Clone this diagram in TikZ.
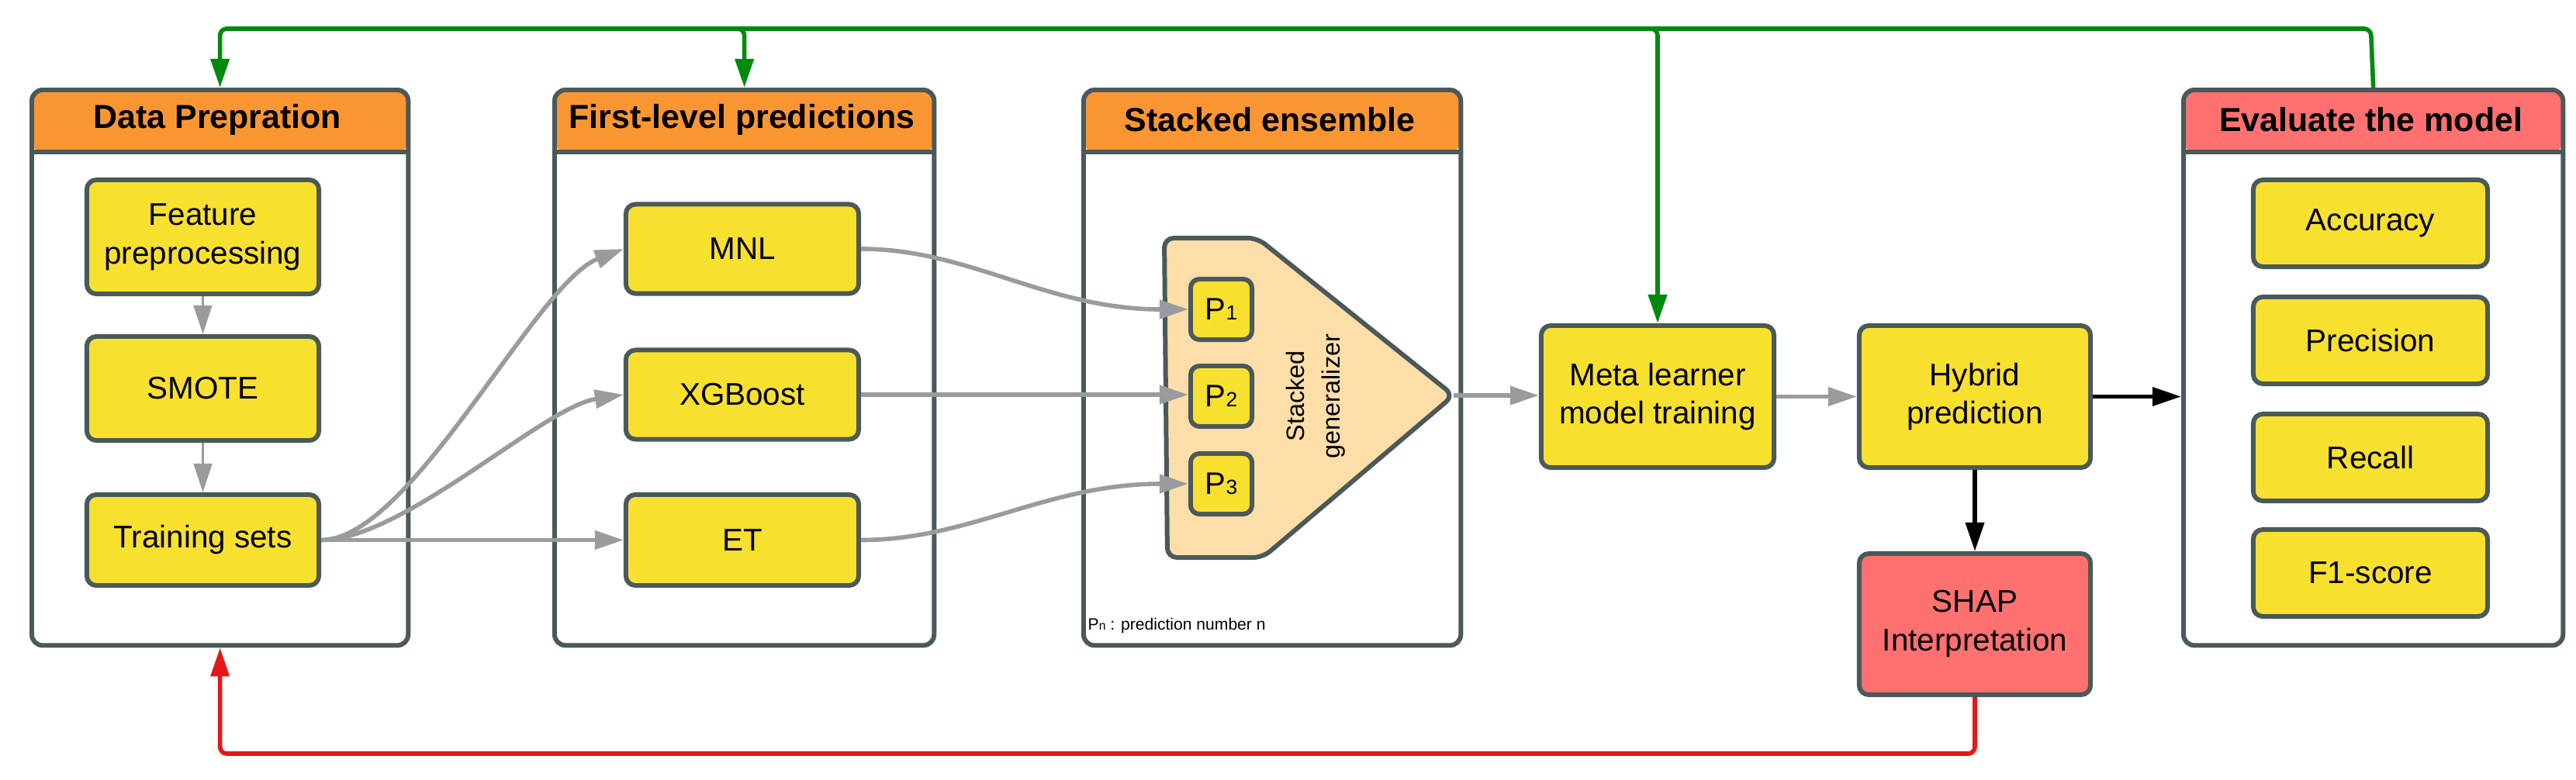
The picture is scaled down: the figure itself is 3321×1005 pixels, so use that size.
\documentclass[tikz,border=0pt]{standalone}
\usepackage{fontspec}
\setmainfont{Liberation Sans}
\usetikzlibrary{arrows.meta}
\definecolor{bd}{RGB}{74,89,89}
\definecolor{hdor}{RGB}{250,150,50}
\definecolor{hdred}{RGB}{255,112,112}
\definecolor{yel}{RGB}{248,224,47}
\definecolor{peach}{RGB}{253,222,168}
\definecolor{garr}{RGB}{153,155,158}
\definecolor{gline}{RGB}{0,138,14}
\definecolor{rline}{RGB}{232,22,22}
\tikzset{
  cont/.style={draw=bd, line width=1.7pt, fill=white, rounded corners=4pt, inner sep=0pt, anchor=north west,
    path picture={\fill[#1] (path picture bounding box.north west) rectangle ([yshift=-0.8cm]path picture bounding box.north east);
      \draw[bd,line width=1.7pt] ([yshift=-0.8cm]path picture bounding box.north west) -- ([yshift=-0.8cm]path picture bounding box.north east);}},
  hdr/.style={font=\fontsize{12.2}{14}\selectfont\bfseries, inner sep=0pt},
  box/.style={draw=bd, line width=1.7pt, fill=yel, rounded corners=3.5pt, align=center, inner sep=0pt,
    font=\fontsize{11.5}{14.2}\selectfont},
  pbox/.style={draw=bd, line width=1.7pt, fill=yel, rounded corners=3.2pt, inner sep=0pt,
    minimum width=0.79cm, minimum height=0.78cm, font=\fontsize{11.4}{13}\selectfont},
  tip/.style={-{Triangle[length=0.37cm,width=0.235cm]}},
  garrow/.style={tip, draw=garr, line width=1.6pt},
  barrow/.style={tip, draw=black, line width=1.5pt},
  gl/.style={tip, draw=gline, line width=1.6pt, rounded corners=2.5pt},
  rl/.style={tip, draw=rline, line width=1.6pt, rounded corners=2.5pt},
}
\begin{document}
\begin{tikzpicture}[x=0.01cm,y=-0.01cm]
\useasboundingbox[fill=white] (0,0) rectangle (3321,1005);

% containers
\node[cont=hdor, minimum width=4.85cm, minimum height=7.16cm] (dp) at (38,113) {};
\node[cont=hdor, minimum width=4.89cm, minimum height=7.16cm] (fl) at (712,113) {};
\node[cont=hdor, minimum width=4.86cm, minimum height=7.16cm] (se) at (1394,113) {};
\node[cont=hdred, minimum width=4.89cm, minimum height=7.16cm] (ev) at (2812,113) {};
\node[hdr] (dph) at (280.5,154) {Data Prepration};
\node[hdr] (flh) at (956.5,154) {First-level predictions};
\node[hdr] (seh) at (1637,154) {Stacked ensemble};
\node[hdr] (evh) at (3056.5,154) {Evaluate the model};

% data preparation
\node[box, minimum width=2.99cm, minimum height=1.47cm] (feat) at (261.5,305.5) {Feature\\preprocessing};
\node[box, minimum width=2.99cm, minimum height=1.34cm] (smote) at (261.5,501) {SMOTE};
\node[box, minimum width=2.99cm, minimum height=1.17cm] (train) at (261.5,696.5) {Training sets};

% first level
\node[box, minimum width=3.0cm, minimum height=1.15cm] (mnl) at (957,321) {MNL};
\node[box, minimum width=3.0cm, minimum height=1.15cm] (xgb) at (957,509) {XGBoost};
\node[box, minimum width=3.0cm, minimum height=1.17cm] (et) at (957,696.5) {ET};

% stacked generalizer
\draw[bd, line width=1.7pt, fill=peach, rounded corners=3.5pt] (1501,307) -- (1621,307) -- (1874,510) -- (1628,719) -- (1505,719) -- cycle;
\coordinate (sgtip) at (1874,510);
\node[rotate=90, align=center, font=\fontsize{9.2}{13}\selectfont] (sgtext) at (1696,511) {Stacked\\generalizer};
\node[pbox] (p1) at (1574.5,399) {P{\fontsize{7.5}{8}\selectfont 1}};
\node[pbox] (p2) at (1574.5,511) {P{\fontsize{7.5}{8}\selectfont 2}};
\node[pbox] (p3) at (1574.5,624) {P{\fontsize{7.5}{8}\selectfont 3}};
\node[anchor=west, inner sep=0pt, font=\fontsize{6}{7}\selectfont] (leg) at (1402,807) {P{\fontsize{4.5}{5}\selectfont n} : prediction number n};

% meta, hybrid, shap
\node[box, minimum width=3.0cm, minimum height=1.83cm] (meta) at (2137,511.5) {Meta learner\\model training};
\node[box, minimum width=2.98cm, minimum height=1.83cm] (hyb) at (2546,511.5) {Hybrid\\prediction};
\node[box, fill=hdred, minimum width=2.98cm, minimum height=1.82cm] (shap) at (2546,805) {SHAP\\Interpretation};

% evaluation
\node[box, minimum width=3.02cm, minimum height=1.12cm] (acc) at (3056,288) {Accuracy};
\node[box, minimum width=3.02cm, minimum height=1.12cm] (prec) at (3056,439) {Precision};
\node[box, minimum width=3.02cm, minimum height=1.12cm] (rec) at (3056,590) {Recall};
\node[box, minimum width=3.02cm, minimum height=1.12cm] (f1) at (3056,739) {F1-score};

% gray connectors
\draw[garrow, line width=1pt] (feat) -- (smote);
\draw[garrow, line width=1pt] (smote) -- (train);
\draw[garrow] (train.east) .. controls (530,696.5) and (690,365) .. (mnl.west);
\draw[garrow] (train.east) .. controls (520,696.5) and (700,525) .. (xgb.west);
\draw[garrow] (train.east) -- (et.west);
\draw[garrow] (mnl.east) .. controls (1250,321) and (1350,399) .. (p1.west);
\draw[garrow] (xgb.east) -- (xgb.east -| p2.west);
\draw[garrow] (et.east) .. controls (1250,696.5) and (1350,624) .. (p3.west);
\draw[garrow] (sgtip) -- (sgtip -| meta.west);
\draw[garrow] (meta) -- (hyb);

% black connectors
\draw[barrow] (hyb.east) -- (hyb.east -| ev.west);
\draw[barrow] (hyb.south) -- (shap.north);

% feedback lines
\draw[gl] (ev.north) -- (3056.5,37) -| (dp.north);
\draw[gl] (930,37) -| (fl.north);
\draw[gl] (2112,37) -| (meta.north);
\draw[rl] (shap.south) -- (2546,972) -| (dp.south);
\end{tikzpicture}
\end{document}
